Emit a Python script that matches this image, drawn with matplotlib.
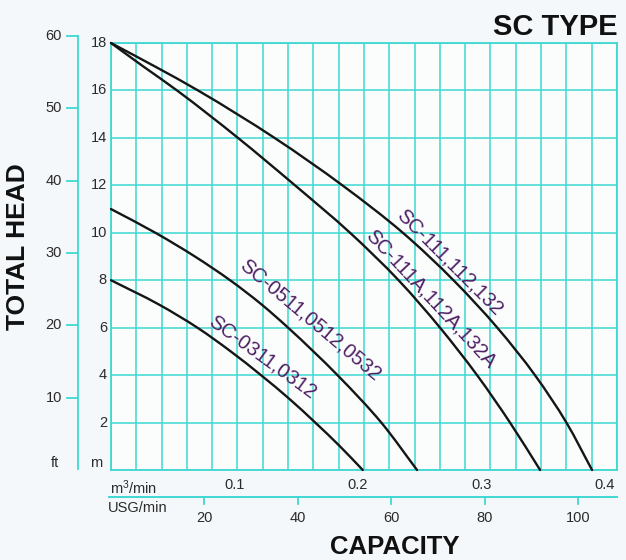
import numpy as np
import matplotlib
matplotlib.use('Agg')
import matplotlib.pyplot as plt
import matplotlib.transforms as mtransforms
from matplotlib.path import Path
from matplotlib.patches import PathPatch

plt.rcParams['font.family'] = ['Liberation Sans', 'DejaVu Sans']
plt.rcParams['mathtext.default'] = 'regular'

# head (m) vs capacity (m3/min)
sc111_h = [18, 17, 16, 14, 12, 10, 8, 6, 4, 2, 0]
sc111_q = [0, 0.036, 0.0705, 0.1325, 0.1875, 0.2365, 0.2775, 0.313, 0.3435, 0.369, 0.3898]
sc111a_h = [18, 17, 16, 14, 12, 10, 8, 6, 4, 2, 0]
sc111a_q = [0, 0.0265, 0.0535, 0.1029, 0.1491, 0.1937, 0.233, 0.2666, 0.2966, 0.3233, 0.3477]
sc0511_h = [11, 10, 9, 8, 7, 6, 4, 2, 0]
sc0511_q = [0, 0.036, 0.068, 0.0965, 0.1215, 0.1435, 0.1835, 0.219, 0.248]
sc0311_h = [8, 7, 6, 5, 4, 3, 2, 1, 0]
sc0311_q = [0, 0.038, 0.070, 0.097, 0.1215, 0.1445, 0.1655, 0.1855, 0.204]

curve_labels = ['SC-111,112,132', 'SC-111A,112A,132A', 'SC-0511,0512,0532', 'SC-0311,0312']
label_pos = [(0.2745, 8.75, -45), (0.259, 7.2, -47), (0.1613, 6.31, -40), (0.1228, 4.75, -36)]

m_ticks = [2, 4, 6, 8, 10, 12, 14, 16, 18]
ft_ticks = [10, 20, 30, 40, 50, 60]
m3_ticks = [0.1, 0.2, 0.3, 0.4]
usg_ticks = [20, 40, 60, 80, 100]

grid_c = '#3fd8d2'
txt_c = '#2b2b2b'
lab_c = '#4e1f63'


def smooth_path(q, h):
    # hermite curve q(h) through the read points, slopes pchip-style
    q = np.asarray(q, float)
    h = np.asarray(h, float)
    dh = np.diff(h)
    d = np.diff(q) / dh
    m = np.zeros_like(q)
    m[0], m[-1] = d[0], d[-1]
    for i in range(1, len(q) - 1):
        w1 = 2 * dh[i] + dh[i - 1]
        w2 = dh[i] + 2 * dh[i - 1]
        m[i] = (w1 + w2) / (w1 / d[i - 1] + w2 / d[i])
    verts = [(q[0], h[0])]
    codes = [Path.MOVETO]
    for i in range(len(q) - 1):
        s = dh[i] / 3
        verts += [(q[i] + m[i] * s, h[i] + s), (q[i + 1] - m[i + 1] * s, h[i + 1] - s), (q[i + 1], h[i + 1])]
        codes += [Path.CURVE4] * 3
    return Path(verts, codes)


fig = plt.figure(figsize=(6.26, 5.6), dpi=100)
fig.patch.set_facecolor('#f4f8fa')
ax = fig.add_axes([0.1773, 0.1607, 0.8083, 0.7625])
ax.set_facecolor('#fbfdfd')
ax.set_xlim(0, 0.41)
ax.set_ylim(0, 18)

# grid
for x in np.linspace(0, 0.41, 21):
    ax.axvline(x, color=grid_c, lw=1.1, zorder=1)
for y in range(0, 19, 2):
    ax.axhline(y, color=grid_c, lw=1.1, zorder=1)
for s in ax.spines.values():
    s.set_color(grid_c)
    s.set_linewidth(1.3)
ax.set_xticks([])
ax.set_yticks([])

# curves
for q, h in [(sc111_q, sc111_h), (sc111a_q, sc111a_h), (sc0511_q, sc0511_h), (sc0311_q, sc0311_h)]:
    ax.add_patch(PathPatch(smooth_path(q, h), facecolor='none', edgecolor='#151515',
                           lw=1.7, zorder=3, clip_on=False, capstyle='round'))

for txt, (x, y, rot) in zip(curve_labels, label_pos):
    ax.text(x, y, txt, rotation=rot, rotation_mode='anchor', ha='center', va='center',
            fontsize=14.5, color=lab_c, zorder=4)

# metre scale
ty = mtransforms.blended_transform_factory(ax.transAxes, ax.transData)
for m in m_ticks:
    ax.text(-0.008, m, str(m), transform=ty, ha='right', va='center', fontsize=10.5, color=txt_c)
ax.text(-0.017, 0.3, 'm', transform=ty, ha='right', va='center', fontsize=10.5, color=txt_c)

# feet scale
ax.plot([-0.0652, -0.0652], [0.05, 60 * 0.3048], transform=ty, color=grid_c, lw=1.3, clip_on=False)
for f in ft_ticks:
    ax.plot([-0.087, -0.0652], [f * 0.3048] * 2, transform=ty, color=grid_c, lw=1.3, clip_on=False)
    ax.text(-0.097, f * 0.3048, str(f), transform=ty, ha='right', va='center', fontsize=10.5, color=txt_c)
ax.text(-0.11, 0.3, 'ft', transform=ty, ha='center', va='center', fontsize=10.5, color=txt_c)

# capacity scales
tx = mtransforms.blended_transform_factory(ax.transData, ax.transAxes)
for q in m3_ticks:
    ax.text(q, -0.036, str(q), transform=tx, ha='center', va='center', fontsize=10.5, color=txt_c)
ax.plot([-0.002, 0.41], [-0.0632, -0.0632], transform=tx, color=grid_c, lw=1.4, clip_on=False)
for g in usg_ticks:
    q = g / 264.17
    ax.plot([q, q], [-0.0632, -0.079], transform=tx, color=grid_c, lw=1.3, clip_on=False)
    ax.text(q, -0.113, str(g), transform=tx, ha='center', va='center', fontsize=10.5, color=txt_c)
ax.text(-0.001, -0.041, 'm$^3$/min', transform=ax.transAxes, ha='left', va='center', fontsize=10.5, color=txt_c)
ax.text(-0.006, -0.090, 'USG/min', transform=ax.transAxes, ha='left', va='center', fontsize=10.5, color=txt_c)

fig.text(0.631, 0.024, 'CAPACITY', ha='center', va='center', fontsize=18.5, fontweight='bold', color='#111111')
fig.text(0.029, 0.559, 'TOTAL HEAD', ha='center', va='center', rotation=90, fontsize=19, fontweight='bold', color='#111111')
fig.text(0.987, 0.952, 'SC TYPE', ha='right', va='center', fontsize=21, fontweight='bold', color='#111111')

fig.savefig('out.png', dpi=100, facecolor=fig.get_facecolor())
